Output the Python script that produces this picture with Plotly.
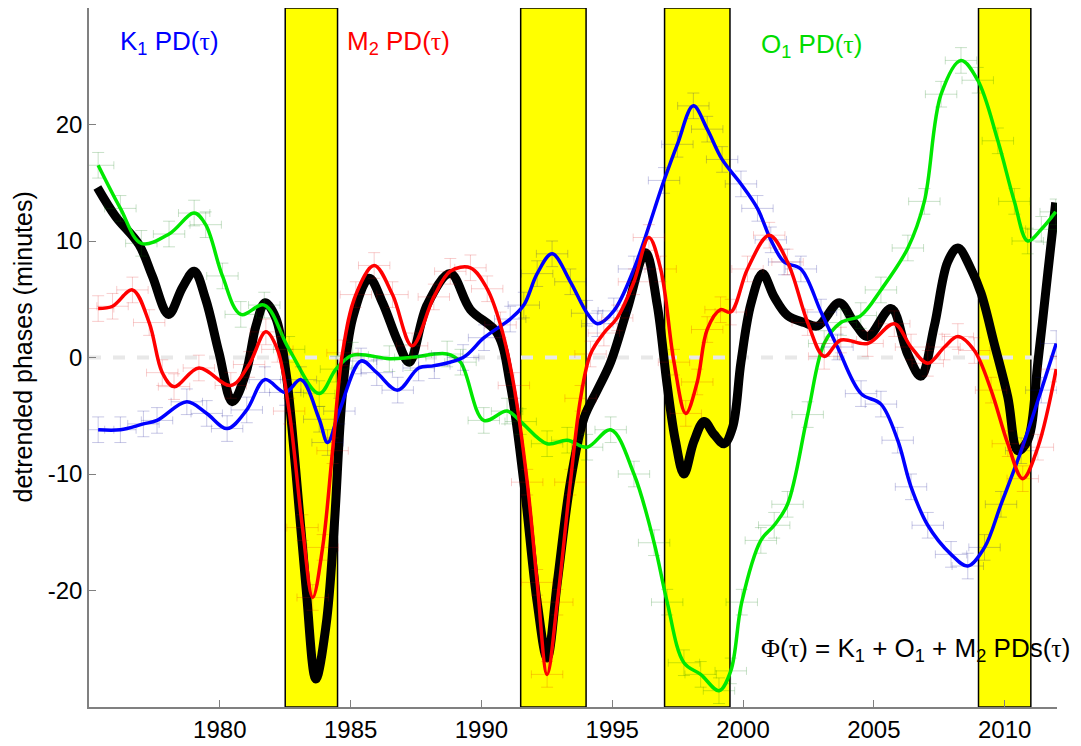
import plotly.graph_objects as go

# ---------------- data ----------------
K1_T = [1975.35, 1976.2, 1977.08, 1977.6, 1978.74, 1979.5, 1980.28, 1981.03, 1981.72, 1982.5,
        1983.1, 1983.8, 1984.12, 1984.57, 1985.4, 1986.0, 1986.8, 1987.6, 1988.2, 1989.3,
        1990.1, 1991.1, 1991.62, 1992.13, 1992.7, 1993.4, 1994.04, 1994.43, 1995.06, 1995.83,
        1996.98, 1997.49, 1998.1, 1998.63, 1999.2, 1999.92, 2000.55, 2001.06, 2001.57, 2002.21,
        2002.98, 2003.61, 2004.51, 2005.27, 2005.91, 2006.42, 2007.06, 2007.95, 2008.59, 2009.23,
        2009.86, 2010.63, 2011.4, 2011.97]
K1_V = [-6.2, -6.2, -5.7, -5.4, -3.8, -4.8, -6.1, -4.5, -1.9, -3.0,
        -1.9, -5.3, -7.3, -4.6, -0.3, -1.3, -2.8, -0.9, -0.7, 0.0,
        1.7, 3.3, 4.5, 7.2, 8.9, 6.5, 3.8, 2.9, 4.0, 7.6,
        15.2, 18.3, 21.6, 19.6, 17.0, 14.9, 12.8, 10.1, 8.2, 7.6,
        3.9, 0.9, -3.1, -4.0, -7.1, -11.1, -14.4, -16.9, -17.9, -16.3,
        -12.6, -8.0, -2.8, 1.2]

M2_T = [1975.35, 1975.9, 1976.66, 1977.3, 1977.8, 1978.25, 1979.2, 1980.42, 1981.12, 1981.76,
        1982.2, 1982.65, 1983.16, 1983.55, 1983.93, 1984.31, 1984.69, 1985.2, 1985.9, 1986.6,
        1987.35, 1988.18, 1988.81, 1989.58, 1990.22, 1990.73, 1991.24, 1991.75, 1992.13, 1992.51,
        1992.9, 1993.4, 1993.79, 1994.17, 1994.68, 1995.19, 1995.83, 1996.4, 1996.85, 1997.36,
        1997.81, 1998.25, 1998.63, 1999.14, 1999.53, 2000.17, 2001.0, 2001.7, 2002.47, 2003.1,
        2003.74, 2004.76, 2005.78, 2006.42, 2007.06, 2007.7, 2008.21, 2008.84, 2009.48, 2010.12,
        2010.69, 2011.27, 2011.97]
M2_V = [4.2, 4.4, 5.8, 3.0, -1.3, -2.5, -0.9, -2.4, -0.6, 2.2,
        0.7, -4.6, -14.6, -20.6, -16.3, -8.0, 0.4, 5.4, 7.9, 5.4,
        1.0, 5.2, 7.4, 7.7, 5.9, 2.8, -2.4, -10.7, -19.3, -27.2,
        -21.0, -10.7, -3.5, 0.3, 2.1, 3.4, 6.5, 10.3, 7.6, -0.4,
        -4.8, -2.1, 2.4, 4.1, 3.9, 7.6, 10.5, 8.2, 3.0, 0.1,
        1.5, 1.2, 2.9, 0.9, -0.5, 0.9, 1.8, 0.6, -2.8, -7.4,
        -10.4, -7.7, -1.0]

O1_T = [1975.35, 1976.2, 1977.0, 1978.06, 1979.02, 1979.46, 1980.1, 1980.8, 1981.7, 1982.65,
        1983.8, 1984.44, 1985.08, 1986.48, 1987.28, 1988.69, 1989.2, 1990.09, 1990.98, 1991.5,
        1992.51, 1993.28, 1994.04, 1994.94, 1995.83, 1996.6, 1997.1, 1997.74, 1998.38, 1999.08,
        1999.53, 1999.95, 2000.68, 2001.19, 2001.7, 2002.47, 2003.1, 2003.74, 2004.5, 2005.27,
        2006.3, 2006.93, 2007.57, 2008.33, 2008.97, 2009.74, 2010.37, 2010.88, 2011.4, 2011.95]
O1_V = [16.5, 12.8, 9.8, 10.6, 12.4, 11.4, 7.0, 3.7, 4.5, 0.7,
        -3.1, -1.0, 0.2, -0.1, 0.0, 0.3, -0.4, -5.4, -4.6, -5.5,
        -7.4, -7.1, -7.7, -6.2, -10.0, -15.9, -21.0, -26.2, -27.2, -28.6,
        -26.9, -21.0, -15.7, -14.4, -12.6, -4.9, 1.2, 3.0, 3.6, 5.8,
        9.4, 13.4, 22.6, 25.5, 23.8, 18.6, 13.4, 10.0, 11.0, 12.5]

SUM_T = [1975.32, 1976.02, 1976.91, 1977.42, 1978.04, 1978.57, 1979.02, 1979.46, 1979.97, 1980.48,
         1981.0, 1981.38, 1981.73, 1982.14, 1982.53, 1982.9, 1983.29, 1983.67, 1984.06, 1984.37,
         1984.69, 1985.08, 1985.71, 1986.22, 1986.8, 1987.24, 1987.92, 1988.81, 1989.58, 1990.6,
         1991.11, 1991.62, 1992.13, 1992.51, 1992.9, 1993.4, 1993.92, 1994.43, 1994.94, 1995.57,
         1996.27, 1996.72, 1997.1, 1997.42, 1997.74, 1998.12, 1998.51, 1998.89, 1999.27, 1999.6,
         1999.92, 2000.3, 2000.74, 2001.19, 2001.7, 2002.34, 2002.85, 2003.68, 2004.25, 2004.76,
         2005.66, 2006.29, 2006.8, 2007.31, 2007.82, 2008.21, 2008.71, 2009.1, 2009.6, 2010.12,
         2010.5, 2010.88, 2011.27, 2011.65, 2011.95]
SUM_V = [14.6, 12.1, 9.7, 7.0, 3.7, 6.0, 7.4, 5.0, 0.4, -3.8,
         -1.3, 2.7, 4.7, 3.4, -1.3, -9.6, -19.6, -27.6, -23.0, -14.6,
         -3.0, 3.4, 6.8, 4.7, 1.4, -0.4, 4.5, 7.2, 4.1, 2.1,
         -2.4, -10.7, -21.0, -25.8, -19.3, -10.7, -5.2, -2.8, -0.4, 4.1,
         9.0, 4.5, -2.4, -7.2, -10.0, -7.2, -5.5, -6.6, -7.4, -6.0,
         -0.4, 4.6, 7.2, 5.2, 3.6, 3.0, 2.7, 4.7, 3.0, 1.8,
         4.2, 0.3, -1.6, 2.7, 8.2, 9.4, 7.6, 5.5, 1.2, -3.4,
         -8.0, -7.1, -0.4, 7.3, 13.3]

# event windows (years)
BANDS = [(1982.5, 1984.5), (1991.5, 1994.0), (1997.0, 1999.5), (2009.0, 2011.0)]

X_TICKS = [1980, 1985, 1990, 1995, 2000, 2005, 2010]
Y_TICKS = [-20, -10, 0, 10, 20]

ERR_T = 0.6    # horizontal error half-width (years)
ERR_V = 1.1    # vertical error half-height (minutes)

FONT = "Liberation Sans, Arial, sans-serif"

fig = go.Figure()

# combined (thick black) curve underneath the components
fig.add_trace(go.Scatter(
    x=SUM_T, y=SUM_V, mode="lines",
    line=dict(color="black", width=9, shape="spline", smoothing=1.0),
    showlegend=False, hoverinfo="skip"))

def add_series(t, v, color, errcolor, width):
    fig.add_trace(go.Scatter(
        x=t, y=v, mode="lines",
        line=dict(color=color, width=width, shape="spline", smoothing=1.0),
        error_x=dict(type="constant", value=ERR_T, color=errcolor, thickness=1, width=4),
        error_y=dict(type="constant", value=ERR_V, color=errcolor, thickness=1, width=6),
        showlegend=False, hoverinfo="skip"))

add_series(O1_T, O1_V, "rgb(0,232,0)", "rgba(0,120,0,0.22)", 3.5)
add_series(K1_T, K1_V, "rgb(0,0,255)", "rgba(0,0,140,0.22)", 3.5)
add_series(M2_T, M2_V, "rgb(255,0,0)", "rgba(220,0,0,0.20)", 3.5)

shapes = []
for a, b in BANDS:
    shapes.append(dict(type="rect", xref="x", yref="paper", x0=a, x1=b, y0=0, y1=1,
                       fillcolor="rgb(255,255,0)", line=dict(color="black", width=1.5),
                       layer="below"))
shapes.append(dict(type="line", xref="paper", yref="y", x0=0, x1=1, y0=0, y1=0,
                   line=dict(color="rgb(232,232,232)", width=4, dash="dash"), layer="below"))

tau = "<span style=\"font-family:'Liberation Serif'\">τ</span>"
phi = "<span style=\"font-family:'Liberation Serif'\">Φ</span>"
annotations = [
    dict(x=1976.1, y=27.0, text="K<sub>1</sub> PD(" + tau + ")", font=dict(color="rgb(0,0,255)", size=26, family=FONT)),
    dict(x=1984.8, y=27.0, text="M<sub>2</sub> PD(" + tau + ")", font=dict(color="rgb(255,0,0)", size=26, family=FONT)),
    dict(x=2000.6, y=26.8, text="O<sub>1</sub> PD(" + tau + ")", font=dict(color="rgb(0,220,0)", size=26, family=FONT)),
    dict(x=2000.6, y=-25.1, text=phi + "(" + tau + ") = K<sub>1</sub> + O<sub>1</sub> + M<sub>2</sub> PDs(" + tau + ")",
         font=dict(color="black", size=26, family=FONT)),
]
for a in annotations:
    a.update(xref="x", yref="y", xanchor="left", yanchor="middle", showarrow=False)

# y-axis title as a rotated annotation
annotations.append(dict(xref="paper", yref="paper", x=0, y=0.5, xshift=-67, yshift=10,
                        xanchor="center", yanchor="middle", textangle=-90, showarrow=False,
                        text="detrended phases (minutes)",
                        font=dict(size=25, family=FONT, color="black")))

axis_common = dict(showline=True, linecolor="rgb(128,128,128)", linewidth=1.5,
                   ticks="inside", ticklen=7, tickwidth=1.2, tickcolor="rgb(128,128,128)",
                   showgrid=False, zeroline=False, mirror=False, automargin=False,
                   tickfont=dict(size=24, family=FONT, color="black"))

# page body has an 8px default margin: compensate so the plot lands where the reference has it
fig.update_layout(
    width=1073, height=738,
    margin=dict(l=81, r=24, t=0, b=39),
    paper_bgcolor="white", plot_bgcolor="white",
    shapes=shapes, annotations=annotations,
    xaxis=dict(range=[1975, 2012], tickvals=X_TICKS, ticktext=[str(v) for v in X_TICKS], **axis_common),
    yaxis=dict(range=[-30, 30], tickvals=Y_TICKS, ticktext=[str(v) for v in Y_TICKS], **axis_common),
)

fig.write_html("out.html")
